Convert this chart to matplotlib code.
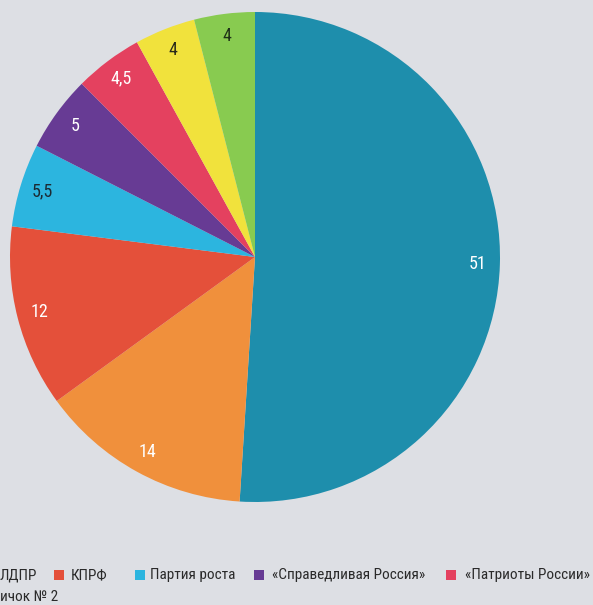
import matplotlib.pyplot as plt
from matplotlib.patches import Rectangle

# slice values, clockwise from the top
values = [51, 14, 12, 5.5, 5, 4.5, 4, 4]
labels = ["51", "14", "12", "5,5", "5", "4,5", "4", "4"]
colors = ['#1e8eac', '#f0903c', '#e4503a', '#2cb5df', '#673b94', '#e4415f', '#f1e23c', '#88cb50']
label_colors = ['white', 'white', 'white', '#1c2a33', 'white', 'white', '#2a2a1a', '#1f3318']

# legend (cropped in the scan)
legend_names = ["ЛДПР", "КПРФ", "Партия роста", "«Справедливая Россия»", "«Патриоты России»"]
legend_colors = ['#f0903c', '#e4503a', '#2cb5df', '#673b94', '#e4415f']
marker_x = [-20, 54, 135, 254, 446]
text_x = [0, 71, 150, 272, 465]

bg = '#dddfe4'
fnt = ['Roboto Condensed', 'Liberation Sans Narrow', 'DejaVu Sans']

fig = plt.figure(figsize=(5.93, 6.05), dpi=100)
fig.patch.set_facecolor(bg)

ax = fig.add_axes([10/593, 103/605, 490/593, 490/605])
ax.set_facecolor(bg)
wedges, texts = ax.pie(values, labels=labels, colors=colors, startangle=90,
                       counterclock=False, labeldistance=0.91,
                       wedgeprops=dict(linewidth=0))
for t, c in zip(texts, label_colors):
    t.set_color(c)
    t.set_fontsize(13)
    t.set_family(fnt)
    t.set_stretch('condensed')
    t.set_ha('center')
    t.set_va('center')
ax.set_xlim(-1, 1)
ax.set_ylim(-1, 1)
ax.axis('off')

W, H = 593, 605
for name, c, mx, tx in zip(legend_names, legend_colors, marker_x, text_x):
    fig.patches.append(Rectangle((mx/W, (H-580)/H), 10/W, 10/H, transform=fig.transFigure,
                                 facecolor=c, edgecolor='none'))
    fig.text(tx/W, (H-575)/H, name, fontsize=11, family=fnt, stretch='condensed',
             color='#2a2a2a', va='center', ha='left')
fig.text(0, (H-597)/H, "ичок № 2", fontsize=11, family=fnt, stretch='condensed',
         color='#2a2a2a', va='center', ha='left')

plt.savefig("out.png", dpi=100, facecolor=bg)
